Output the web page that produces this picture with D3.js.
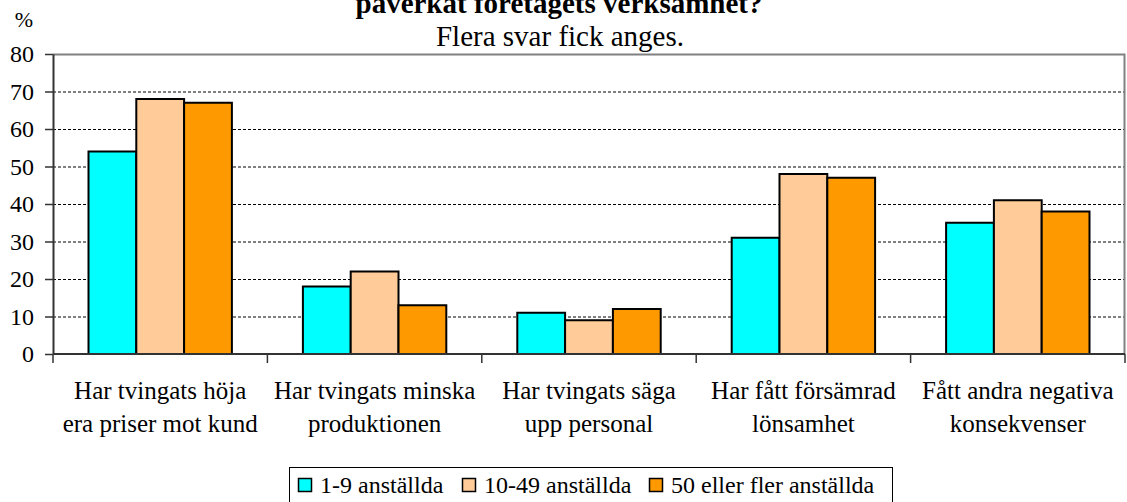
<!DOCTYPE html>
<html>
<head>
<meta charset="utf-8">
<script src="https://cdn.jsdelivr.net/npm/d3@7"></script>
<style>
  body { margin: 0; background: #fff; }
</style>
</head>
<body>
<div class="chart"></div>
<script>
// data
var categories = [
    ["Har tvingats höja", "era priser mot kund"],
    ["Har tvingats minska", "produktionen"],
    ["Har tvingats säga", "upp personal"],
    ["Har fått försämrad", "lönsamhet"],
    ["Fått andra negativa", "konsekvenser"]
];
var seriesNames = ["1-9 anställda", "10-49 anställda", "50 eller fler anställda"];
var seriesColors = ["#00ffff", "#ffcc99", "#ff9900"];
var small = [54, 18, 11, 31, 35];
var medium = [68, 22, 9, 48, 41];
var large = [67, 13, 12, 47, 38];
var yTicks = [0, 10, 20, 30, 40, 50, 60, 70, 80];

const width = 1127;
const height = 502;
const serif = '"Liberation Serif", Tinos, "Times New Roman", "DejaVu Serif", serif';

// plot area
const plotLeft = 53, plotRight = 1125, plotTop = 54, plotBottom = 354;

var svg = d3.select('.chart')
    .append('svg')
    .attr('width', width)
    .attr('height', height)
    .style('font-family', serif);

var series = [small, medium, large];
var catIdx = d3.range(categories.length);

var x0 = d3.scaleBand().domain(catIdx).range([plotLeft, plotRight]).padding(0);
var x1 = d3.scaleBand().domain(d3.range(series.length))
    .range([35.5, x0.bandwidth() - 35.5]).padding(0);
var y = d3.scaleLinear().domain([0, 80]).range([plotBottom, plotTop]);

// title (cut at top) and subtitle
svg.append('text')
    .attr('x', 559).attr('y', 13)
    .attr('text-anchor', 'middle')
    .style('font-family', serif)
    .attr('font-size', '29px')
    .attr('font-weight', 'bold')
    .text('påverkat företagets verksamhet?');

svg.append('text')
    .attr('x', 560).attr('y', 46)
    .attr('text-anchor', 'middle')
    .style('font-family', serif)
    .attr('font-size', '29px')
    .text('Flera svar fick anges.');

svg.append('text')
    .attr('x', 24).attr('y', 27)
    .attr('text-anchor', 'middle')
    .style('font-family', serif)
    .attr('font-size', '22px')
    .text('%');

// gridlines
svg.append('g')
    .selectAll('line')
    .data(yTicks.filter(d => d > 0 && d < 80))
    .enter()
    .append('line')
    .attr('x1', plotLeft).attr('x2', plotRight)
    .attr('y1', d => y(d) + 0.5).attr('y2', d => y(d) + 0.5)
    .attr('stroke', '#000')
    .attr('stroke-width', 1)
    .attr('stroke-dasharray', '3,2');

// plot border (top and right)
svg.append('path')
    .attr('d', 'M' + plotLeft + ',' + (plotTop + 0.5) + 'H' + (plotRight - 0.5) + 'V' + plotBottom)
    .attr('fill', 'none')
    .attr('stroke', '#808080')
    .attr('stroke-width', 2);

// bars
var groups = svg.append('g')
    .selectAll('g')
    .data(catIdx)
    .enter()
    .append('g')
    .attr('transform', d => 'translate(' + x0(d) + ',0)');

groups.selectAll('rect')
    .data(c => series.map((s, i) => ({ i: i, v: s[c] })))
    .enter()
    .append('rect')
    .attr('x', d => x1(d.i))
    .attr('y', d => y(d.v))
    .attr('width', x1.bandwidth())
    .attr('height', d => y(0) - y(d.v))
    .attr('fill', d => seriesColors[d.i])
    .attr('stroke', '#000')
    .attr('stroke-width', 2);

// y axis
var yAxis = d3.axisLeft(y)
    .tickValues(yTicks)
    .tickSize(8)
    .tickPadding(11)
    .tickSizeOuter(0);

var gy = svg.append('g')
    .attr('transform', 'translate(' + plotLeft + ',0)')
    .call(yAxis)
    .attr('font-family', null);
gy.select('.domain').attr('stroke', '#333').attr('stroke-width', 2);
gy.selectAll('.tick line').attr('stroke', '#333').attr('stroke-width', 1.5);
gy.selectAll('.tick text')
    .attr('fill', '#000')
    .attr('font-size', '24px')
    .style('font-family', serif);

// x axis: line + category boundary ticks
svg.append('line')
    .attr('x1', plotLeft).attr('x2', plotRight)
    .attr('y1', plotBottom).attr('y2', plotBottom)
    .attr('stroke', '#333').attr('stroke-width', 2);

svg.append('g')
    .selectAll('line')
    .data(d3.range(categories.length + 1))
    .enter()
    .append('line')
    .attr('x1', d => d < categories.length ? x0(d) : plotRight)
    .attr('x2', d => d < categories.length ? x0(d) : plotRight)
    .attr('y1', plotBottom).attr('y2', plotBottom + 9)
    .attr('stroke', '#333').attr('stroke-width', 1.5);

// category labels
var labels = svg.append('g')
    .selectAll('text')
    .data(catIdx)
    .enter()
    .append('text')
    .attr('x', d => x0(d) + x0.bandwidth() / 2)
    .attr('y', 399)
    .attr('text-anchor', 'middle')
    .style('font-family', serif)
    .attr('font-size', '25px');

labels.selectAll('tspan')
    .data(d => categories[d])
    .enter()
    .append('tspan')
    .attr('x', function() { return d3.select(this.parentNode).attr('x'); })
    .attr('dy', (d, i) => i === 0 ? 0 : 33)
    .text(d => d);

// legend
var legendX = [298, 462, 649];
var legend = svg.append('g');
legend.append('rect')
    .attr('x', 289.5).attr('y', 467.5)
    .attr('width', 603).attr('height', 40)
    .attr('fill', '#fff')
    .attr('stroke', '#000')
    .attr('stroke-width', 1);

var items = legend.selectAll('g')
    .data(seriesNames)
    .enter()
    .append('g')
    .attr('transform', (d, i) => 'translate(' + legendX[i] + ',0)');

items.append('rect')
    .attr('x', 0.5).attr('y', 478.5)
    .attr('width', 13).attr('height', 13)
    .attr('fill', (d, i) => seriesColors[i])
    .attr('stroke', '#000')
    .attr('stroke-width', 1.5);

items.append('text')
    .attr('x', 22).attr('y', 493)
    .style('font-family', serif)
    .attr('font-size', '24px')
    .text(d => d);
</script>
</body>
</html>
